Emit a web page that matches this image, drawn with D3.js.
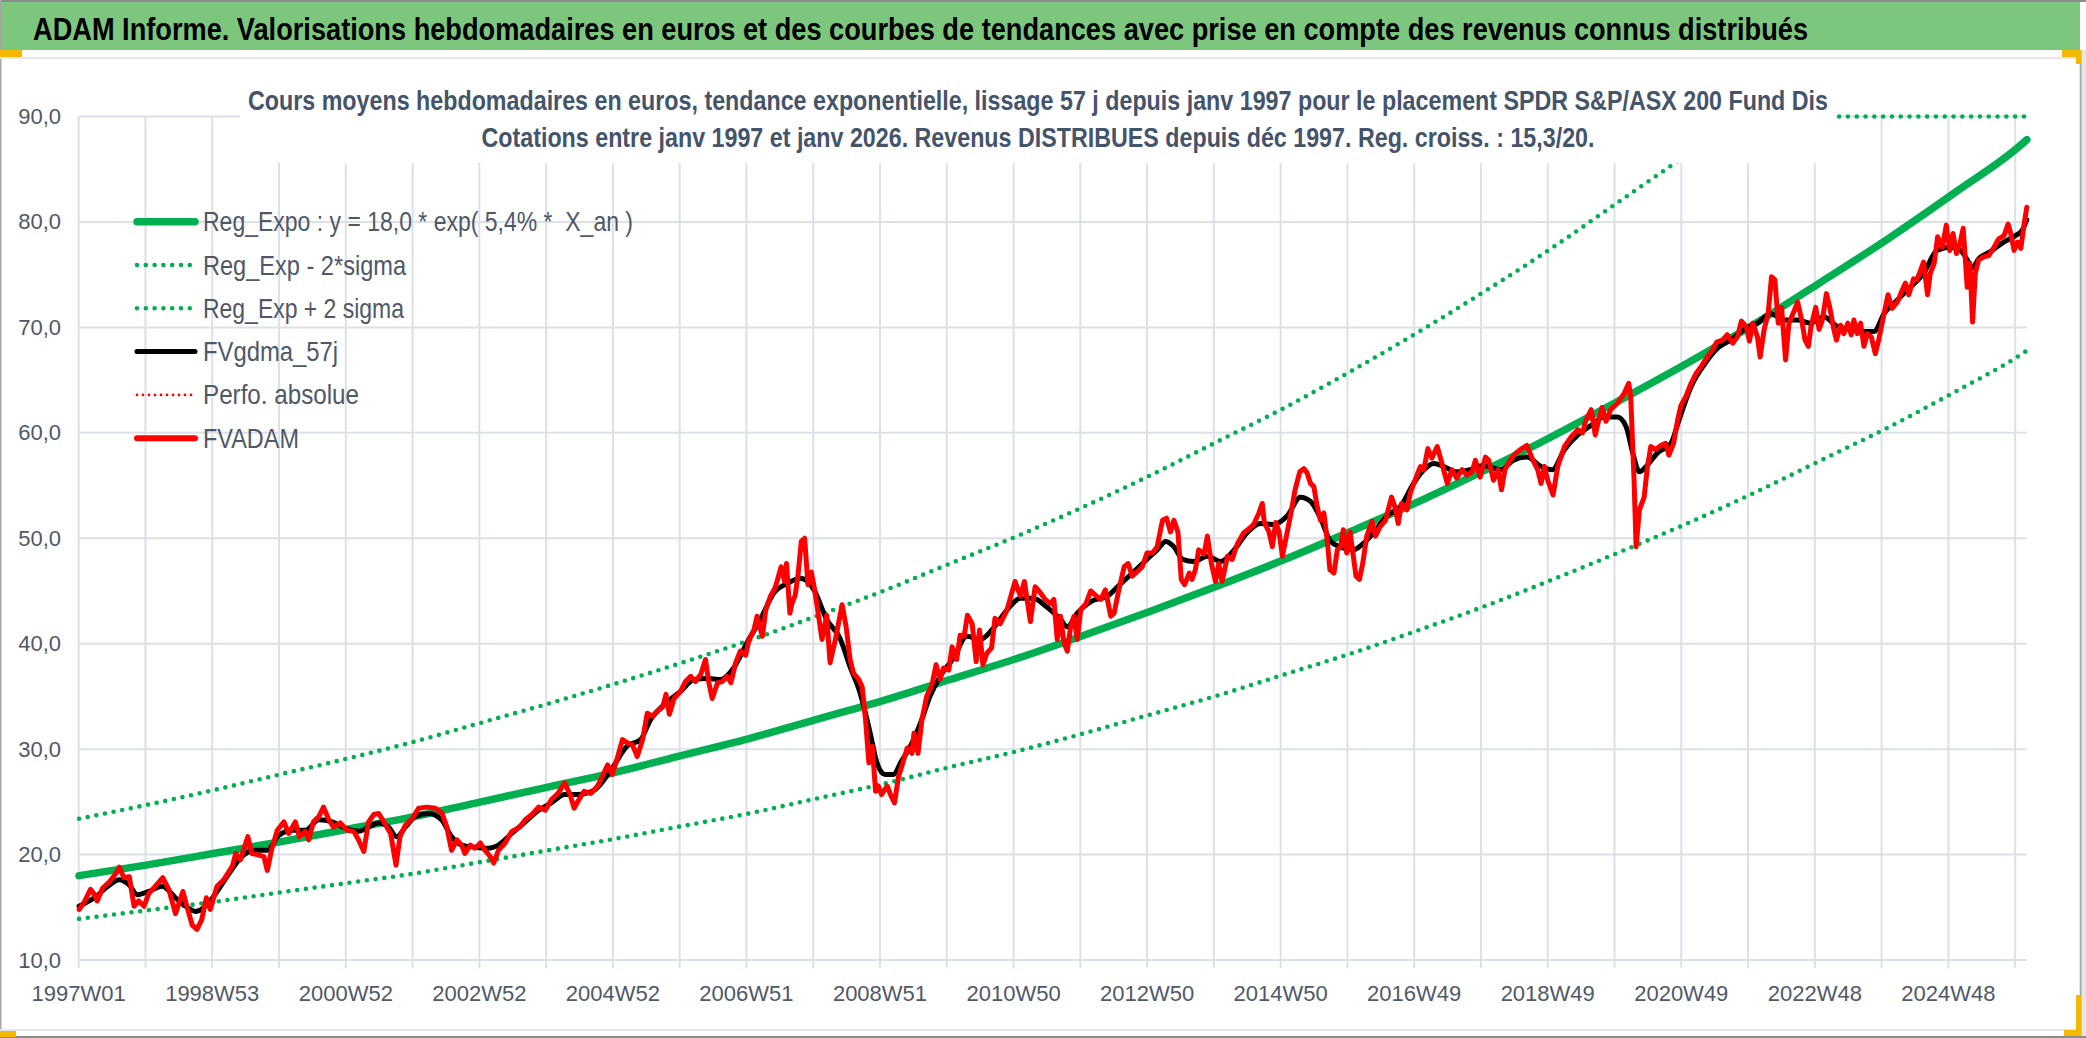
<!DOCTYPE html>
<html>
<head>
<meta charset="utf-8">
<script src="https://cdn.jsdelivr.net/npm/d3@7"></script>
<style>
  html, body { margin: 0; padding: 0; background: #fff; }
  svg { display: block; }
  text { font-family: 'Liberation Sans Narrow', 'Arial Narrow', 'Liberation Sans', sans-serif; }
</style>
</head>
<body>
<svg id="chart" width="2086" height="1038"></svg>
<script>
// valeurs : [année décimale, valeur en euros]
const fvadam = [
  [1997.00,14.8],[1997.07,15.4],[1997.17,16.7],[1997.22,16.3],[1997.27,15.6],[1997.35,16.8],[1997.45,17.4],[1997.55,18.2],
  [1997.60,18.8],[1997.67,17.8],[1997.75,17.9],[1997.82,15.1],[1997.89,15.6],[1997.97,15.1],[1998.04,16.3],[1998.14,17.0],
  [1998.25,17.8],[1998.34,16.7],[1998.44,14.4],[1998.55,16.5],[1998.64,14.4],[1998.69,13.3],[1998.76,12.9],[1998.83,13.8],
  [1998.90,15.9],[1998.96,14.8],[1999.06,17.0],[1999.16,17.6],[1999.29,18.9],[1999.34,20.1],[1999.41,19.5],[1999.52,21.7],
  [1999.58,20.1],[1999.66,20.0],[1999.76,19.8],[1999.81,18.5],[1999.88,20.6],[1999.96,22.3],[2000.06,23.1],[2000.13,22.0],
  [2000.23,23.1],[2000.29,21.7],[2000.38,22.2],[2000.43,21.4],[2000.50,23.1],[2000.58,23.6],[2000.65,24.5],[2000.73,23.3],
  [2000.80,22.6],[2000.90,23.0],[2001.00,22.3],[2001.10,22.2],[2001.17,21.4],[2001.25,20.3],[2001.32,23.1],[2001.40,23.8],
  [2001.47,23.9],[2001.55,23.1],[2001.65,22.0],[2001.73,19.0],[2001.79,21.7],[2001.87,22.8],[2001.97,23.4],[2002.07,24.4],
  [2002.19,24.5],[2002.32,24.4],[2002.42,23.9],[2002.49,22.6],[2002.56,20.4],[2002.64,21.4],[2002.71,20.9],[2002.76,20.1],
  [2002.84,20.9],[2002.91,20.6],[2002.99,21.1],[2003.06,20.4],[2003.14,19.8],[2003.19,19.2],[2003.26,20.4],[2003.36,21.1],
  [2003.46,22.2],[2003.58,22.6],[2003.66,23.3],[2003.76,23.8],[2003.86,24.5],[2003.96,24.2],[2004.05,25.2],[2004.15,25.8],
  [2004.25,26.8],[2004.33,25.7],[2004.39,24.4],[2004.46,25.2],[2004.54,26.0],[2004.64,25.8],[2004.74,26.5],[2004.81,27.4],
  [2004.89,28.5],[2004.96,27.6],[2005.04,29.3],[2005.11,30.9],[2005.18,30.6],[2005.26,30.4],[2005.33,29.3],[2005.41,30.9],
  [2005.48,33.4],[2005.56,33.1],[2005.63,33.6],[2005.71,34.0],[2005.76,35.2],[2005.81,33.3],[2005.88,34.8],[2005.98,35.5],
  [2006.05,36.4],[2006.13,36.9],[2006.20,36.4],[2006.28,37.1],[2006.35,38.5],[2006.40,36.3],[2006.45,34.8],[2006.53,36.3],
  [2006.60,36.4],[2006.67,36.9],[2006.73,36.3],[2006.80,38.2],[2006.87,39.3],[2006.95,38.9],[2007.00,40.4],[2007.07,41.2],
  [2007.12,42.6],[2007.20,40.7],[2007.25,43.2],[2007.32,44.5],[2007.39,45.3],[2007.44,46.4],[2007.48,47.3],[2007.53,45.9],
  [2007.56,47.6],[2007.61,42.9],[2007.64,43.8],[2007.69,44.6],[2007.73,46.4],[2007.78,49.7],[2007.83,50.0],[2007.88,45.6],
  [2007.93,46.8],[2007.98,45.1],[2008.04,42.6],[2008.09,40.4],[2008.16,42.7],[2008.21,38.2],[2008.29,40.4],[2008.39,43.7],
  [2008.45,41.6],[2008.51,38.5],[2008.56,37.2],[2008.64,36.6],[2008.69,35.9],[2008.74,32.8],[2008.79,28.7],[2008.84,30.3],
  [2008.89,26.0],[2008.93,26.5],[2008.98,25.7],[2009.06,26.5],[2009.11,25.7],[2009.17,24.9],[2009.23,27.4],[2009.28,28.4],
  [2009.36,30.1],[2009.43,29.6],[2009.46,31.5],[2009.52,29.6],[2009.58,32.8],[2009.65,35.0],[2009.73,36.1],[2009.79,38.0],
  [2009.85,36.6],[2009.90,37.7],[2009.98,37.5],[2010.03,39.7],[2010.10,38.5],[2010.15,40.8],[2010.21,40.7],[2010.26,42.7],
  [2010.33,41.9],[2010.39,38.3],[2010.44,41.3],[2010.49,38.0],[2010.55,39.1],[2010.62,39.6],[2010.67,42.4],[2010.75,41.9],
  [2010.85,43.2],[2010.92,44.8],[2010.97,45.9],[2011.05,44.5],[2011.11,45.9],[2011.20,42.1],[2011.27,45.4],[2011.34,44.9],
  [2011.42,44.2],[2011.50,43.8],[2011.55,44.2],[2011.60,40.4],[2011.65,42.6],[2011.70,40.1],[2011.75,39.3],[2011.80,41.6],
  [2011.85,42.6],[2011.90,40.4],[2011.95,43.2],[2012.03,43.8],[2012.10,45.0],[2012.17,44.6],[2012.25,44.2],[2012.32,45.1],
  [2012.40,42.6],[2012.45,42.9],[2012.52,45.1],[2012.60,47.3],[2012.66,47.6],[2012.72,46.4],[2012.79,46.8],[2012.87,47.3],
  [2012.94,48.6],[2013.02,48.6],[2013.09,49.2],[2013.17,51.7],[2013.23,51.9],[2013.29,50.6],[2013.34,51.7],[2013.40,50.6],
  [2013.45,46.1],[2013.50,45.6],[2013.57,46.7],[2013.61,46.1],[2013.66,47.0],[2013.71,48.9],[2013.79,48.5],[2013.84,50.2],
  [2013.90,47.6],[2013.96,45.9],[2014.01,47.6],[2014.06,45.9],[2014.14,48.3],[2014.21,48.0],[2014.29,49.5],[2014.38,50.5],
  [2014.46,50.9],[2014.53,51.3],[2014.61,52.4],[2014.66,53.3],[2014.69,51.5],[2014.76,50.6],[2014.81,49.2],[2014.86,51.5],
  [2014.91,50.6],[2014.96,48.3],[2015.02,50.2],[2015.08,52.1],[2015.15,54.6],[2015.22,56.3],[2015.28,56.6],[2015.33,56.2],
  [2015.38,55.2],[2015.43,54.9],[2015.48,53.0],[2015.53,51.7],[2015.58,52.4],[2015.63,49.8],[2015.67,47.0],[2015.73,46.7],
  [2015.78,48.9],[2015.83,49.2],[2015.87,50.8],[2015.92,48.6],[2015.97,50.6],[2016.02,48.3],[2016.06,46.4],[2016.11,46.1],
  [2016.16,47.6],[2016.22,50.2],[2016.30,51.6],[2016.35,50.2],[2016.42,51.1],[2016.50,51.7],[2016.59,53.9],[2016.64,53.0],
  [2016.69,51.4],[2016.74,53.3],[2016.82,52.7],[2016.87,54.3],[2016.94,55.5],[2017.02,56.8],[2017.07,56.5],[2017.13,58.5],
  [2017.19,57.6],[2017.27,58.7],[2017.34,57.1],[2017.42,55.2],[2017.49,56.5],[2017.56,55.7],[2017.64,56.5],[2017.71,56.0],
  [2017.79,56.3],[2017.84,57.4],[2017.91,55.8],[2017.99,57.7],[2018.04,57.4],[2018.11,55.5],[2018.18,56.5],[2018.23,54.6],
  [2018.28,56.5],[2018.36,57.4],[2018.43,58.0],[2018.51,58.4],[2018.61,58.8],[2018.68,57.7],[2018.73,57.0],[2018.77,56.5],
  [2018.82,55.2],[2018.87,56.8],[2018.92,55.5],[2019.00,54.1],[2019.07,56.8],[2019.17,58.7],[2019.27,59.6],[2019.37,60.3],
  [2019.44,60.0],[2019.49,61.2],[2019.57,62.2],[2019.63,59.8],[2019.67,60.9],[2019.73,62.4],[2019.79,61.1],[2019.86,62.2],
  [2019.96,62.8],[2020.06,63.7],[2020.13,64.7],[2020.16,63.4],[2020.21,55.5],[2020.24,49.2],[2020.29,52.7],[2020.36,53.9],
  [2020.41,56.8],[2020.46,58.7],[2020.53,58.4],[2020.61,58.8],[2020.68,59.0],[2020.73,57.9],[2020.80,59.0],[2020.86,61.2],
  [2020.91,62.6],[2020.98,63.4],[2021.06,64.7],[2021.13,65.6],[2021.21,66.3],[2021.30,67.2],[2021.38,67.9],[2021.44,68.6],
  [2021.53,68.8],[2021.60,69.3],[2021.68,68.5],[2021.75,69.1],[2021.81,70.6],[2021.88,70.1],[2021.93,68.7],[2021.98,70.4],
  [2022.05,69.1],[2022.09,67.2],[2022.15,69.8],[2022.21,71.3],[2022.26,74.8],[2022.31,74.5],[2022.36,70.4],[2022.41,71.9],
  [2022.47,66.9],[2022.52,70.4],[2022.60,71.6],[2022.65,72.4],[2022.71,70.7],[2022.76,68.8],[2022.81,68.2],[2022.85,70.1],
  [2022.92,71.9],[2022.97,69.8],[2023.02,70.7],[2023.08,73.2],[2023.13,71.9],[2023.19,69.8],[2023.23,68.8],[2023.29,70.2],
  [2023.34,69.4],[2023.40,70.4],[2023.45,69.3],[2023.49,70.7],[2023.54,69.4],[2023.59,70.4],[2023.64,68.2],[2023.69,69.4],
  [2023.75,69.1],[2023.81,67.5],[2023.86,68.8],[2023.94,71.3],[2024.00,73.1],[2024.06,71.8],[2024.14,72.4],[2024.21,73.5],
  [2024.26,74.2],[2024.31,73.1],[2024.38,74.6],[2024.43,74.5],[2024.48,75.3],[2024.53,76.2],[2024.59,73.1],[2024.63,75.1],
  [2024.69,76.1],[2024.74,78.6],[2024.81,77.6],[2024.87,79.7],[2024.92,77.3],[2024.97,78.9],[2025.02,77.0],[2025.07,77.9],
  [2025.12,79.4],[2025.18,73.8],[2025.22,76.1],[2025.26,70.5],[2025.30,75.1],[2025.35,76.4],[2025.43,76.7],[2025.50,76.8],
  [2025.58,77.6],[2025.65,78.4],[2025.73,78.7],[2025.79,79.8],[2025.83,78.9],[2025.88,77.3],[2025.93,78.1],[2025.98,77.5],
  [2026.03,79.8],[2026.07,81.4]
];

const fvgdma57 = [
  [1997.00,15.1],[1997.25,16.0],[1997.45,17.1],[1997.60,17.6],[1997.75,17.1],[1997.87,16.2],[1998.04,16.5],[1998.24,17.0],
  [1998.44,15.9],[1998.59,15.1],[1998.74,14.6],[1998.89,15.1],[1999.04,16.3],[1999.24,18.2],[1999.43,19.8],[1999.63,20.4],
  [1999.81,20.4],[1999.98,21.8],[2000.18,22.3],[2000.38,22.3],[2000.58,23.3],[2000.78,23.1],[2000.97,22.5],[2001.17,22.2],
  [2001.32,22.6],[2001.47,23.0],[2001.62,22.6],[2001.74,21.7],[2001.87,22.6],[2002.02,23.6],[2002.22,23.9],[2002.41,23.3],
  [2002.56,21.7],[2002.71,20.9],[2002.91,20.7],[2003.11,20.6],[2003.26,20.9],[2003.46,22.0],[2003.66,23.1],[2003.86,24.2],
  [2004.05,24.9],[2004.25,25.7],[2004.44,25.7],[2004.69,26.1],[2004.94,28.0],[2005.18,30.3],[2005.38,30.9],[2005.53,32.8],
  [2005.73,34.2],[2005.98,35.5],[2006.18,36.6],[2006.38,36.7],[2006.57,36.6],[2006.77,37.7],[2006.97,40.1],[2007.17,42.3],
  [2007.37,44.8],[2007.57,45.7],[2007.77,46.2],[2007.97,45.1],[2008.16,42.3],[2008.36,40.5],[2008.51,37.8],[2008.66,35.3],
  [2008.81,31.5],[2008.91,28.7],[2009.03,27.6],[2009.16,27.6],[2009.26,28.7],[2009.41,30.3],[2009.56,32.5],[2009.70,35.0],
  [2009.85,36.9],[2010.05,38.6],[2010.25,40.7],[2010.45,40.4],[2010.65,41.5],[2010.85,43.2],[2011.05,44.3],[2011.24,44.3],
  [2011.44,43.5],[2011.65,42.3],[2011.75,41.6],[2011.90,42.9],[2012.10,44.0],[2012.35,44.5],[2012.55,45.7],[2012.74,46.8],
  [2012.94,48.0],[2013.09,48.9],[2013.22,49.7],[2013.34,49.2],[2013.47,48.0],[2013.64,47.8],[2013.84,48.3],[2014.04,47.8],
  [2014.24,48.9],[2014.43,50.5],[2014.63,51.4],[2014.83,51.3],[2015.03,52.1],[2015.23,53.9],[2015.38,53.5],[2015.53,51.9],
  [2015.68,49.7],[2015.82,49.2],[2016.02,48.9],[2016.17,49.5],[2016.32,50.5],[2016.52,52.1],[2016.72,53.0],[2016.92,55.2],
  [2017.07,56.5],[2017.22,57.1],[2017.37,56.8],[2017.56,56.3],[2017.76,56.5],[2017.96,56.9],[2018.21,56.5],[2018.41,57.4],
  [2018.61,57.7],[2018.82,56.8],[2018.99,56.5],[2019.17,58.4],[2019.37,59.8],[2019.57,60.7],[2019.76,61.5],[2019.96,61.5],
  [2020.09,60.6],[2020.19,58.1],[2020.29,56.3],[2020.39,56.8],[2020.56,58.1],[2020.76,59.0],[2020.88,61.2],[2021.06,64.4],
  [2021.27,66.6],[2021.45,68.0],[2021.65,68.8],[2021.85,69.8],[2022.05,70.4],[2022.25,71.3],[2022.45,70.7],[2022.65,70.7],
  [2022.84,70.4],[2023.04,71.0],[2023.24,70.1],[2023.44,69.8],[2023.64,69.6],[2023.79,69.6],[2023.94,71.3],[2024.14,72.6],
  [2024.33,73.8],[2024.53,75.1],[2024.73,77.3],[2024.93,77.6],[2025.08,77.3],[2025.18,76.4],[2025.25,75.6],[2025.35,76.5],
  [2025.53,77.2],[2025.73,78.1],[2025.90,78.7],[2026.00,79.2],[2026.07,80.2]
];

const regExpo = [
  [1997,18.0],[1998,19.0],[1999,20.1],[2000,21.2],[2001,22.4],[2002,23.6],[2003,25.0],[2004,26.4],[2005,27.8],
  [2006,29.4],[2007,31.0],[2008,32.8],[2009,34.6],[2010,36.6],[2011,38.6],[2012,40.8],[2013,43.1],[2014,45.5],
  [2015,48.0],[2016,50.7],[2017,53.5],[2018,56.5],[2019,59.7],[2020,63.1],[2021,66.6],[2022,70.3],[2023,74.3],
  [2024,78.4],[2025,82.8],[2026,87.4],[2026.07,87.8]
];

const regMoins2Sigma = [
  [1997,13.9],[1998,14.7],[1999,15.5],[2000,16.4],[2001,17.3],[2002,18.2],[2003,19.3],[2004,20.4],[2005,21.5],
  [2006,22.7],[2007,23.9],[2008,25.3],[2009,26.7],[2010,28.3],[2011,29.8],[2012,31.5],[2013,33.3],[2014,35.1],
  [2015,37.1],[2016,39.1],[2017,41.3],[2018,43.6],[2019,46.1],[2020,48.7],[2021,51.4],[2022,54.3],[2023,57.4],
  [2024,60.5],[2025,63.9],[2026,67.5],[2026.07,67.8]
];

// la courbe haute sort du cadre puis revient plaquée sur 90
const regPlus2Sigma = [
  [1997,23.4],[1998,24.7],[1999,26.1],[2000,27.6],[2001,29.1],[2002,30.7],[2003,32.5],[2004,34.3],[2005,36.2],
  [2006,38.2],[2007,40.3],[2008,42.6],[2009,45.0],[2010,47.6],[2011,50.2],[2012,53.0],[2013,56.0],[2014,59.2],
  [2015,62.4],[2016,65.9],[2017,69.6],[2018,73.5],[2019,77.6],[2020,82.0],[2020.87,85.8],[2022,null],
  [2023.27,90],[2026.07,90]
];

const yTicks = [10, 20, 30, 40, 50, 60, 70, 80, 90];
const tickLabels = ["1997W01", "1998W53", "2000W52", "2002W52", "2004W52", "2006W51", "2008W51", "2010W50",
  "2012W50", "2014W50", "2016W49", "2018W49", "2020W49", "2022W48", "2024W48"];

const legendLabels = ["Reg_Expo : y = 18,0 * exp( 5,4% *  X_an )", "Reg_Exp - 2*sigma", "Reg_Exp + 2 sigma",
  "FVgdma_57j", "Perfo. absolue", "FVADAM"];

const titleText = "ADAM Informe. Valorisations hebdomadaires en euros et des courbes de tendances avec prise en compte des revenus connus distribués";
const subTitle1 = "Cours moyens hebdomadaires en euros, tendance exponentielle, lissage 57 j depuis janv 1997 pour le placement SPDR S&P/ASX 200 Fund Dis";
const subTitle2 = "Cotations entre janv 1997 et janv 2026. Revenus DISTRIBUES depuis déc 1997. Reg. croiss. : 15,3/20.";

// semaines de l'axe des catégories
const weekDates = d3.utcMonday.range(new Date(Date.UTC(1996, 11, 30)), new Date(Date.UTC(2026, 0, 27)));
const weekLabels = weekDates.map(d3.utcFormat("%GW%V"));

const toDate = (yv) => {
  const yr = Math.floor(yv);
  return new Date(Date.UTC(yr, 0, 1) + (yv - yr) * 365.25 * 864e5);
};

const svg = d3.select("#chart");
const textCol = "#4f5869";
const gridCol = "#dce0e7";
const green = "#00b050";

const plotL = 78.7, plotR = 2026.7, plotT = 116.5, plotB = 960;

const x = d3.scaleUtc().domain([weekDates[0], weekDates[weekDates.length - 1]]).range([plotL, plotR]);
const y = d3.scaleLinear().domain([10, 90]).range([plotB, plotT]);

// cadre, bandeau du titre
svg.append("rect").attr("x", 0).attr("y", 0).attr("width", 2086).attr("height", 1038).attr("fill", "#fff");
svg.append("rect").attr("x", 0).attr("y", 2).attr("width", 2080).attr("height", 48).attr("fill", "#7dc67e");
svg.append("rect").attr("x", 0).attr("y", 0).attr("width", 2086).attr("height", 2).attr("fill", "#8c8c8c");
svg.append("rect").attr("x", 0).attr("y", 0).attr("width", 1.5).attr("height", 1038).attr("fill", "#a6a6a6");
svg.append("rect").attr("x", 0).attr("y", 57).attr("width", 2080).attr("height", 2).attr("fill", "#e3e6ec");
svg.append("rect").attr("x", 0).attr("y", 1029).attr("width", 2080).attr("height", 2).attr("fill", "#e3e6ec");
svg.append("rect").attr("x", 0).attr("y", 1036).attr("width", 2086).attr("height", 2).attr("fill", "#8c8c8c");
svg.append("rect").attr("x", 2079).attr("y", 50).attr("width", 7).attr("height", 986).attr("fill", "#e6e6e6");
svg.append("rect").attr("x", 2080).attr("y", 50).attr("width", 1.5).attr("height", 986).attr("fill", "#a6a6a6");

// poignées de sélection
[[0, 50, 22, 7], [2062, 50, 19, 7], [2076, 50, 5, 14], [0, 1031, 16, 6], [2064, 1030, 17, 6], [2076, 995, 5, 41]]
  .forEach(r => svg.append("rect").attr("x", r[0]).attr("y", r[1]).attr("width", r[2]).attr("height", r[3]).attr("fill", "#f5b800"));

svg.append("text").attr("x", 33).attr("y", 40)
  .attr("textLength", 1775).attr("lengthAdjust", "spacingAndGlyphs")
  .style("font-size", "31px").style("font-weight", "bold").style("fill", "#000")
  .text(titleText);

// quadrillage
const grid = svg.append("g");
grid.selectAll(".hgrid").data(yTicks).enter().append("line").attr("class", "hgrid")
  .attr("x1", plotL).attr("x2", plotR)
  .attr("y1", d => y(d)).attr("y2", d => y(d))
  .style("stroke", gridCol).style("stroke-width", 2);

const majorIdx = d3.range(0, weekDates.length, 52);
grid.selectAll(".vgrid").data(majorIdx).enter().append("line").attr("class", "vgrid")
  .attr("x1", d => x(weekDates[d])).attr("x2", d => x(weekDates[d]))
  .attr("y1", plotT).attr("y2", plotB + 8)
  .style("stroke", gridCol).style("stroke-width", 2);

// étiquettes des axes
svg.append("g").selectAll("text").data(yTicks).enter().append("text")
  .attr("x", 61).attr("y", d => y(d)).attr("text-anchor", "end").attr("dominant-baseline", "central")
  .style("font-size", "22px").style("fill", textCol)
  .text(d => d3.format(".1f")(d).replace(".", ","));

svg.append("g").selectAll("text").data(tickLabels).enter().append("text")
  .attr("x", d => x(weekDates[weekLabels.indexOf(d)])).attr("y", 993)
  .attr("text-anchor", "middle").attr("dominant-baseline", "central")
  .style("font-size", "22px").style("fill", textCol)
  .text(d => d);

// courbes
const line = d3.line().x(d => x(toDate(d[0]))).y(d => y(d[1]));
const smooth = d3.line().defined(d => d[1] != null)
  .x(d => x(toDate(d[0]))).y(d => y(d[1])).curve(d3.curveMonotoneX);

const plot = svg.append("g");
plot.append("path").datum(regExpo).attr("d", smooth)
  .style("fill", "none").style("stroke", green).style("stroke-width", 7.5).style("stroke-linecap", "round");
plot.append("path").datum(regMoins2Sigma).attr("d", smooth)
  .style("fill", "none").style("stroke", green).style("stroke-width", 4.6)
  .style("stroke-linecap", "round").style("stroke-dasharray", "0 8.8");
plot.append("path").datum(regPlus2Sigma).attr("d", smooth)
  .style("fill", "none").style("stroke", green).style("stroke-width", 4.6)
  .style("stroke-linecap", "round").style("stroke-dasharray", "0 8.8");
plot.append("path").datum(fvgdma57).attr("d", smooth)
  .style("fill", "none").style("stroke", "#000").style("stroke-width", 5)
  .style("stroke-linejoin", "round").style("stroke-linecap", "round");
plot.append("path").datum(fvadam).attr("d", line)
  .style("fill", "none").style("stroke", "#ff0000").style("stroke-width", 5)
  .style("stroke-linejoin", "round").style("stroke-linecap", "round");

// boîte du sous-titre, posée sur le quadrillage
svg.append("rect").attr("x", 240).attr("y", 60).attr("width", 1596).attr("height", 103).attr("fill", "#fff");
svg.append("text").attr("x", 1038).attr("y", 110).attr("text-anchor", "middle")
  .attr("textLength", 1580).attr("lengthAdjust", "spacingAndGlyphs")
  .style("font-size", "27px").style("font-weight", "bold").style("fill", "#44546a")
  .text(subTitle1);
svg.append("text").attr("x", 1038).attr("y", 147).attr("text-anchor", "middle")
  .attr("textLength", 1113).attr("lengthAdjust", "spacingAndGlyphs")
  .style("font-size", "27px").style("font-weight", "bold").style("fill", "#44546a")
  .text(subTitle2);

// légende
const legendStyles = [
  { color: green, width: 7.5, dash: null, len: 430 },
  { color: green, width: 4.6, dash: "0 8.8", len: 203 },
  { color: green, width: 4.6, dash: "0 8.8", len: 201 },
  { color: "#000", width: 5, dash: null, len: 135 },
  { color: "#ff0000", width: 2.8, dash: "0 6", len: 156 },
  { color: "#ff0000", width: 6, dash: null, len: 96 }
];

const legend = svg.append("g").attr("transform", "translate(0,221.7)");
const rows = legend.selectAll("g").data(legendLabels).enter().append("g")
  .attr("transform", (d, i) => "translate(0," + (i * 43.3) + ")");
rows.append("line").attr("x1", 137).attr("x2", 195).attr("y1", 0).attr("y2", 0)
  .style("stroke", (d, i) => legendStyles[i].color)
  .style("stroke-width", (d, i) => legendStyles[i].width)
  .style("stroke-linecap", "round")
  .style("stroke-dasharray", (d, i) => legendStyles[i].dash);
rows.append("text").attr("x", 203).attr("y", 0).attr("dominant-baseline", "central")
  .attr("textLength", (d, i) => legendStyles[i].len).attr("lengthAdjust", "spacingAndGlyphs")
  .style("white-space", "pre")
  .style("font-size", "28px").style("fill", textCol)
  .text(d => d);
</script>
</body>
</html>
